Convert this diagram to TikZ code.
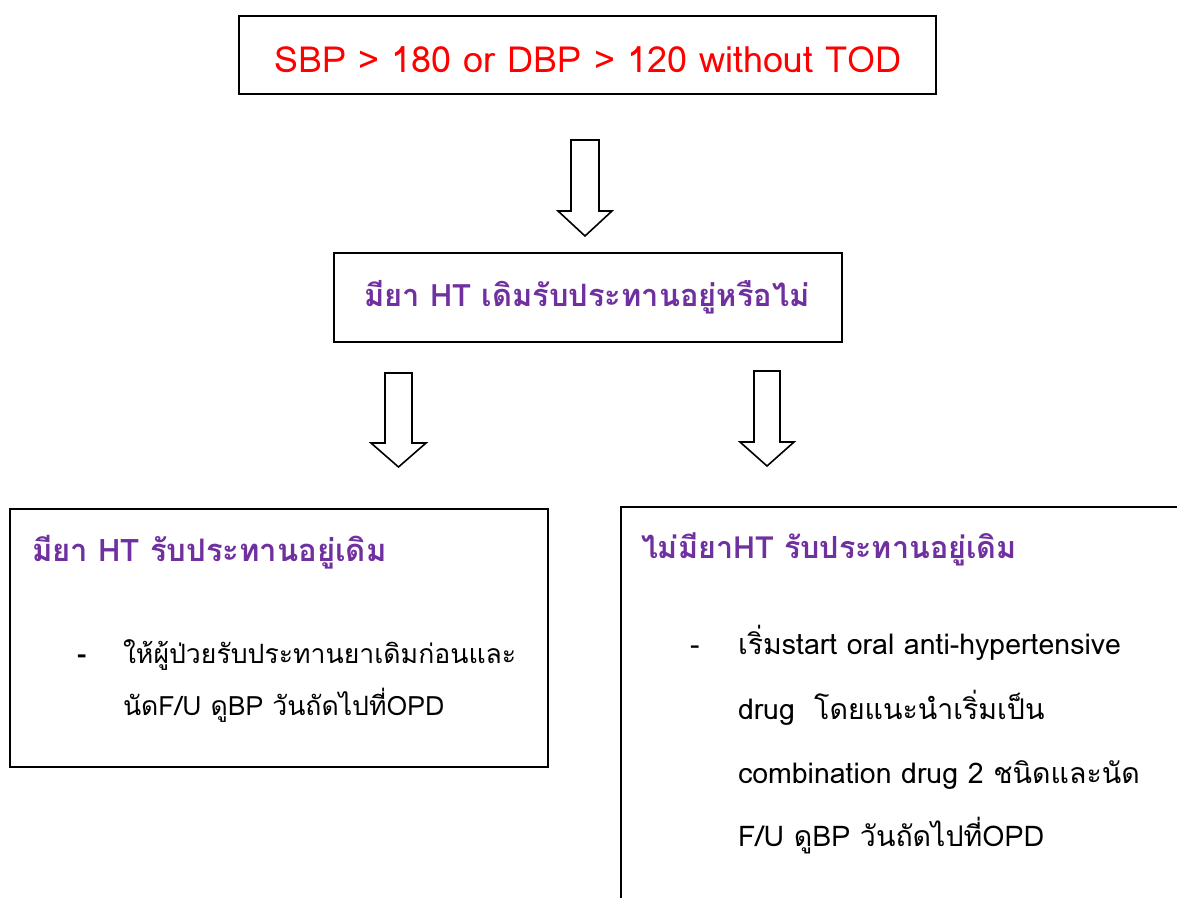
\documentclass[tikz,border=0pt]{standalone}
\usepackage{fontspec}
\setmainfont{Loma}[Script=Thai]
\definecolor{hred}{HTML}{FF0000}
\definecolor{hpurple}{HTML}{7030A0}
\newcommand\bkarrow[6]{% cx, top, shaft half, head y, wing half, tip y
  \draw[arrowshape] (#1-#3,#2) -- (#1+#3,#2) -- (#1+#3,#4) -- (#1+#5,#4) -- (#1,#6)
    -- (#1-#5,#4) -- (#1-#3,#4) -- cycle;}
\begin{document}
\begin{tikzpicture}[x=1pt,y=-1pt,
  box/.style={draw=black, line width=2pt},
  arrowshape/.style={draw=black, line width=1.6pt, line join=miter, fill=white},
  txt/.style={inner sep=0pt, outer sep=0pt, anchor=base west},
  head/.style={txt, text=hpurple, font=\fontsize{31}{40}\selectfont\bfseries},
  lbody/.style={txt, font=\fontsize{26.6}{40}\selectfont},
  rbody/.style={txt, font=\fontsize{28.5}{40}\selectfont}]
\path[use as bounding box] (0,0) rectangle (1177,897);
\fill[white] (0,0) rectangle (1177,897);
% top box
\draw[box] (239,16) rectangle (936,94);
\node[txt, anchor=base, text=hred, font=\fontsize{36}{40}\selectfont] (top) at (588,72) {SBP > 180 or DBP > 120 without TOD};

\bkarrow{585}{140}{14}{211}{27}{236}

% middle box
\draw[box] (334,253) rectangle (842,342);
\node[txt, anchor=base, text=hpurple, font=\fontsize{30.8}{40}\selectfont\bfseries] (mid) at (587,306) {มียา HT เดิมรับประทานอยู่หรือไม่};

\bkarrow{398.5}{373}{13.5}{443}{27.5}{467}
\bkarrow{767}{371}{13}{442}{27}{466}

% left box
\draw[box] (10,509) rectangle (548,767);
\node[head] (lefthead) at (32,561) {มียา HT รับประทานอยู่เดิม};
\node[lbody, font=\fontsize{28}{40}\selectfont\bfseries] (leftdash) at (77,663) {-};
\node[lbody] (left1) at (123,663) {ให้ผู้ป่วยรับประทานยาเดิมก่อนและ};
\node[lbody] (left2) at (123,715) {นัดF/U ดูBP วันถัดไปที่OPD};

% right box
\begin{scope}
\clip (0,0) rectangle (1177,897);
\draw[box] (621,507) rectangle (1200,920);
\end{scope}
\node[head, font=\fontsize{30.5}{40}\selectfont\bfseries] (righthead) at (641,558) {ไม่มียาHT รับประทานอยู่เดิม};
\node[rbody] (rightdash) at (690,654) {-};
\node[rbody] (right1) at (738,654) {เริ่มstart oral anti-hypertensive};
\node[rbody] (right2) at (738,719) {drug\ \ โดยแนะนำเริ่มเป็น};
\node[rbody] (right3) at (738,783) {combination drug 2 ชนิดและนัด};
\node[rbody] (right4) at (738,846) {F/U ดูBP วันถัดไปที่OPD};
\end{tikzpicture}
\end{document}
